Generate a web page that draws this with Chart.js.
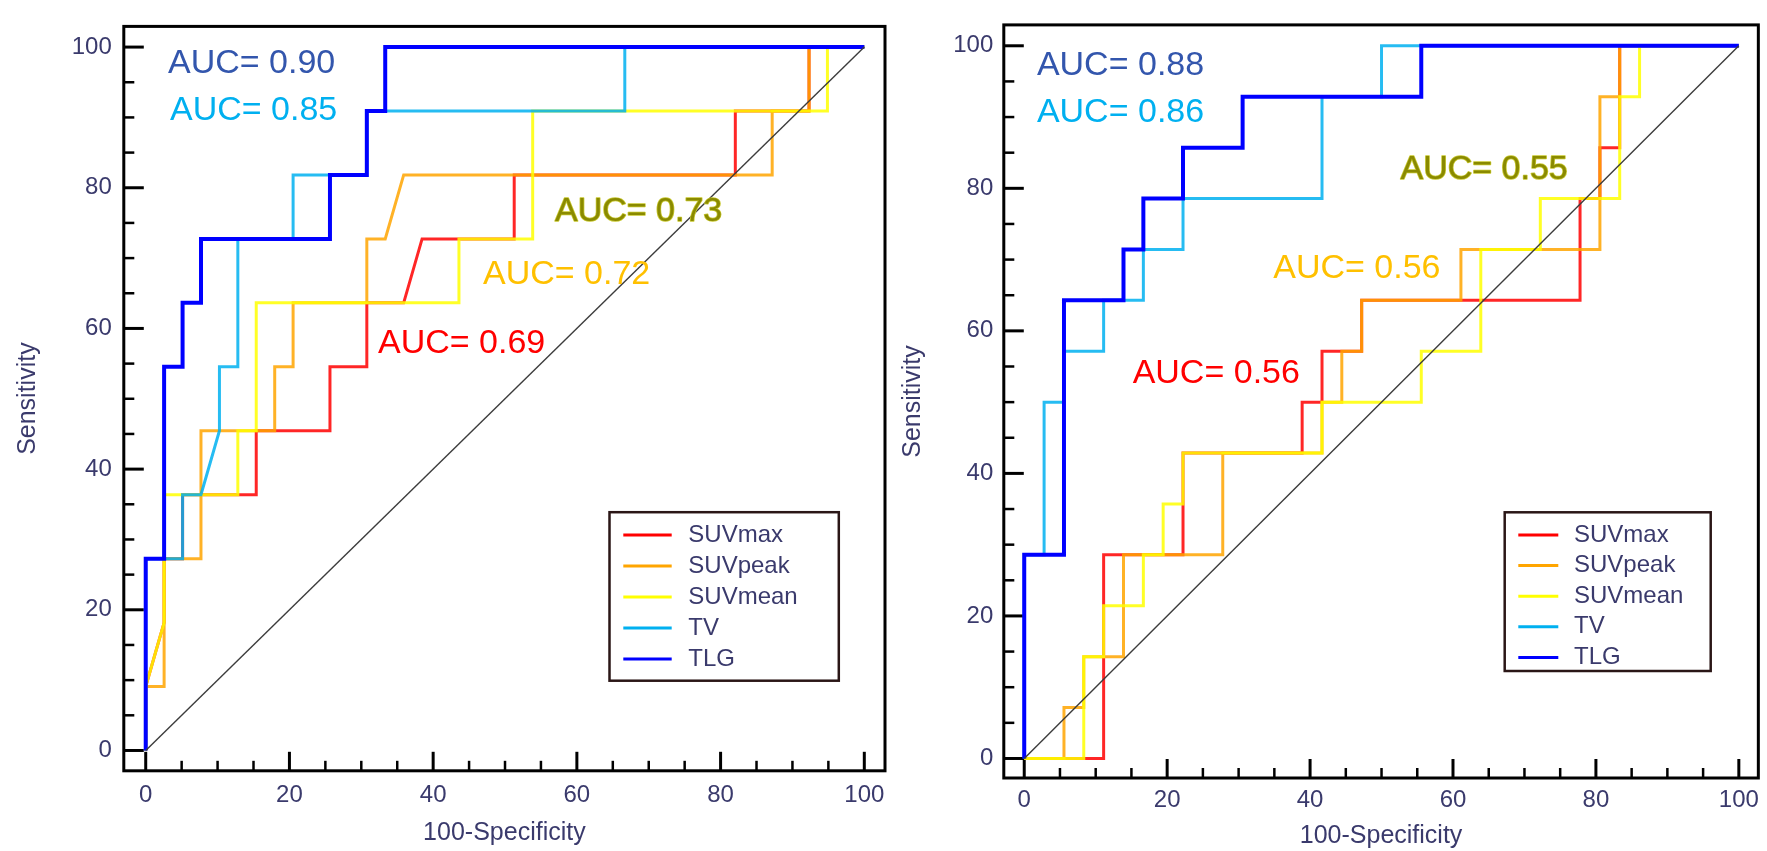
<!DOCTYPE html>
<html>
<head>
<meta charset="utf-8">
<script src="https://cdn.jsdelivr.net/npm/chart.js@4.4.1/dist/chart.umd.min.js"></script>
<style>
  html, body { margin: 0; padding: 0; background: #ffffff; }
  #wrapL { position: absolute; left: 0; top: 0; width: 895px; height: 851px; }
  #wrapR { position: absolute; left: 895px; top: 0; width: 872px; height: 851px; }
</style>
</head>
<body>
<div id="wrapL"><canvas id="cL" width="895" height="851"></canvas></div>
<div id="wrapR"><canvas id="cR" width="872" height="851"></canvas></div>
<script>
// ---------------- DATA ----------------
const seriesNames = ['SUVmax', 'SUVpeak', 'SUVmean', 'TV', 'TLG'];
const majorTicks = [0, 20, 40, 60, 80, 100];
const minorTicks = [5, 10, 15, 25, 30, 35, 45, 50, 55, 65, 70, 75, 85, 90, 95];
const xTitle = '100-Specificity';
const yTitle = 'Sensitivity';
const diagX = [0, 100];
const diagY = [0, 100];

// Left panel (100-Specificity = x, Sensitivity = y)
const L_SUVmax_x  = [0, 0, 2.56, 2.56, 5.13, 5.13, 15.38, 15.38, 25.64, 25.64, 30.77, 30.77, 35.90, 38.46, 51.28, 51.28, 82.05, 82.05, 92.31, 92.31, 100];
const L_SUVmax_y  = [0, 9.09, 18.18, 27.27, 27.27, 36.36, 36.36, 45.45, 45.45, 54.55, 54.55, 63.64, 63.64, 72.73, 72.73, 81.82, 81.82, 90.91, 90.91, 100, 100];
const L_SUVpeak_x = [0, 0, 2.56, 2.56, 7.69, 7.69, 17.95, 17.95, 20.51, 20.51, 30.77, 30.77, 33.33, 35.90, 87.18, 87.18, 92.31, 92.31, 100];
const L_SUVpeak_y = [0, 9.09, 9.09, 27.27, 27.27, 45.45, 45.45, 54.55, 54.55, 63.64, 63.64, 72.73, 72.73, 81.82, 81.82, 90.91, 90.91, 100, 100];
const L_SUVmean_x = [0, 0, 2.56, 2.56, 12.82, 12.82, 15.38, 15.38, 43.59, 43.59, 53.85, 53.85, 94.87, 94.87, 100];
const L_SUVmean_y = [0, 9.09, 18.18, 36.36, 36.36, 45.45, 45.45, 63.64, 63.64, 72.73, 72.73, 90.91, 90.91, 100, 100];
const L_TV_x      = [0, 0, 5.13, 5.13, 7.69, 10.26, 10.26, 12.82, 12.82, 20.51, 20.51, 30.77, 30.77, 66.67, 66.67, 100];
const L_TV_y      = [0, 27.27, 27.27, 36.36, 36.36, 45.45, 54.55, 54.55, 72.73, 72.73, 81.82, 81.82, 90.91, 90.91, 100, 100];
const L_TLG_x     = [0, 0, 2.56, 2.56, 5.13, 5.13, 7.69, 7.69, 25.64, 25.64, 30.77, 30.77, 33.33, 33.33, 100];
const L_TLG_y     = [0, 27.27, 27.27, 54.55, 54.55, 63.64, 63.64, 72.73, 72.73, 81.82, 81.82, 90.91, 90.91, 100, 100];
const L_aucText   = ['AUC= 0.90', 'AUC= 0.85', 'AUC= 0.73', 'AUC= 0.72', 'AUC= 0.69'];

// Right panel
const R_SUVmax_x  = [0, 11.11, 11.11, 22.22, 22.22, 38.89, 38.89, 41.67, 41.67, 47.22, 47.22, 77.78, 77.78, 80.56, 80.56, 83.33, 83.33, 100];
const R_SUVmax_y  = [0, 0, 28.57, 28.57, 42.86, 42.86, 50, 50, 57.14, 57.14, 64.29, 64.29, 78.57, 78.57, 85.71, 85.71, 100, 100];
const R_SUVpeak_x = [0, 5.56, 5.56, 8.33, 8.33, 13.89, 13.89, 27.78, 27.78, 41.67, 41.67, 44.44, 44.44, 47.22, 47.22, 61.11, 61.11, 80.56, 80.56, 83.33, 83.33, 100];
const R_SUVpeak_y = [0, 0, 7.14, 7.14, 14.29, 14.29, 28.57, 28.57, 42.86, 42.86, 50, 50, 57.14, 57.14, 64.29, 64.29, 71.43, 71.43, 92.86, 92.86, 100, 100];
const R_SUVmean_x = [0, 8.33, 8.33, 11.11, 11.11, 16.67, 16.67, 19.44, 19.44, 22.22, 22.22, 41.67, 41.67, 55.56, 55.56, 63.89, 63.89, 72.22, 72.22, 83.33, 83.33, 86.11, 86.11, 100];
const R_SUVmean_y = [0, 0, 14.29, 14.29, 21.43, 21.43, 28.57, 28.57, 35.71, 35.71, 42.86, 42.86, 50, 50, 57.14, 57.14, 71.43, 71.43, 78.57, 78.57, 92.86, 92.86, 100, 100];
const R_TV_x      = [0, 0, 2.78, 2.78, 5.56, 5.56, 11.11, 11.11, 16.67, 16.67, 22.22, 22.22, 41.67, 41.67, 50, 50, 100];
const R_TV_y      = [0, 28.57, 28.57, 50, 50, 57.14, 57.14, 64.29, 64.29, 71.43, 71.43, 78.57, 78.57, 92.86, 92.86, 100, 100];
const R_TLG_x     = [0, 0, 5.56, 5.56, 13.89, 13.89, 16.67, 16.67, 22.22, 22.22, 30.56, 30.56, 55.56, 55.56, 100];
const R_TLG_y     = [0, 28.57, 28.57, 64.29, 64.29, 71.43, 71.43, 78.57, 78.57, 85.71, 85.71, 92.86, 92.86, 100, 100];
const R_aucText   = ['AUC= 0.88', 'AUC= 0.86', 'AUC= 0.55', 'AUC= 0.56', 'AUC= 0.56'];

// ---------------- STYLE ----------------
const FONT = "'Liberation Sans', Arial, Helvetica, sans-serif";
Chart.defaults.font.family = FONT;
const AXIS_COLOR = '#3a3a6c';
const seriesRGB = [[255, 0, 0], [255, 165, 0], [255, 255, 0], [0, 176, 240], [0, 0, 255]];
const seriesAlpha = [0.85, 0.85, 0.85, 0.85, 1];
const seriesWidth = [3, 3, 3, 3, 4];
const seriesOrder = [5, 4, 3, 2, 1];
const aucColors = ['#3356ad', '#00b0f0', '#8a8a00', '#ffc000', '#ff0000'];
const aucStroke = [null, null, '#c8c830', null, null];

function pts(xs, ys) { return xs.map((v, i) => ({ x: v, y: ys[i] })); }
function rgba(c, a) { return 'rgba(' + c[0] + ',' + c[1] + ',' + c[2] + ',' + a + ')'; }

// ---------------- PLUGINS ----------------
const rocFrame = {
  id: 'rocFrame',
  beforeDatasetsDraw(chart, args, o) {
    const { ctx, chartArea: a, scales: { x, y } } = chart;
    ctx.save();
    ctx.strokeStyle = '#000';
    ctx.lineCap = 'butt';
    const tick = (isX, v, len, w) => {
      ctx.lineWidth = w;
      ctx.beginPath();
      if (isX) { const p = x.getPixelForValue(v); ctx.moveTo(p, a.bottom); ctx.lineTo(p, a.bottom - len); }
      else { const p = y.getPixelForValue(v); ctx.moveTo(a.left, p); ctx.lineTo(a.left + len, p); }
      ctx.stroke();
    };
    majorTicks.forEach(v => { tick(true, v, o.xMajor, 3); tick(false, v, o.yMajor, 3); });
    minorTicks.forEach(v => { tick(true, v, o.xMinor, 2.5); tick(false, v, o.yMinor, 2.5); });
    ctx.lineWidth = o.frameWidth;
    ctx.strokeRect(a.left, a.top, a.right - a.left, a.bottom - a.top);
    ctx.restore();
  }
};

const rocLegend = {
  id: 'rocLegend',
  afterDatasetsDraw(chart, args, o) {
    const ctx = chart.ctx;
    ctx.save();
    ctx.fillStyle = '#ffffff';
    ctx.fillRect(o.box[0], o.box[1], o.box[2] - o.box[0], o.box[3] - o.box[1]);
    ctx.strokeStyle = '#2a1616';
    ctx.lineWidth = 2.5;
    ctx.strokeRect(o.box[0], o.box[1], o.box[2] - o.box[0], o.box[3] - o.box[1]);
    ctx.font = o.fontSize + 'px ' + FONT;
    ctx.textBaseline = 'middle';
    ctx.textAlign = 'left';
    seriesNames.forEach((name, i) => {
      const yy = o.rowY + i * o.rowStep;
      ctx.strokeStyle = rgba(seriesRGB[i], 1);
      ctx.lineWidth = 3;
      ctx.beginPath(); ctx.moveTo(o.lineX1, yy); ctx.lineTo(o.lineX2, yy); ctx.stroke();
      ctx.fillStyle = AXIS_COLOR;
      ctx.fillText(name, o.textX, yy);
    });
    ctx.restore();
  }
};

const aucLabels = {
  id: 'aucLabels',
  afterDatasetsDraw(chart, args, o) {
    const { ctx, scales: { x, y } } = chart;
    ctx.save();
    ctx.font = o.fontSize + 'px ' + FONT;
    ctx.textBaseline = 'alphabetic';
    ctx.textAlign = 'left';
    o.texts.forEach((t, i) => {
      const px = x.getPixelForValue(o.pos[i][0]);
      const py = y.getPixelForValue(o.pos[i][1]);
      if (aucStroke[i]) {
        ctx.lineWidth = 1.5; ctx.strokeStyle = aucStroke[i]; ctx.lineJoin = 'round';
        ctx.strokeText(t, px, py);
      }
      ctx.fillStyle = aucColors[i];
      ctx.fillText(t, px, py);
    });
    ctx.restore();
  }
};

// ---------------- CHARTS ----------------
function makePanel(canvasId, series, aucTexts, L) {
  const datasets = series.map((s, i) => ({
    label: seriesNames[i],
    data: pts(s[0], s[1]),
    borderColor: rgba(seriesRGB[i], seriesAlpha[i]),
    borderWidth: seriesWidth[i],
    pointRadius: 0,
    tension: 0,
    fill: false,
    order: seriesOrder[i],
    borderJoinStyle: 'miter',
    borderCapStyle: 'butt'
  }));
  datasets.push({
    label: 'reference',
    data: pts(diagX, diagY),
    borderColor: '#3c3c3c',
    borderWidth: 1.4,
    pointRadius: 0,
    fill: false,
    order: 0
  });
  return new Chart(document.getElementById(canvasId), {
    type: 'line',
    data: { datasets },
    options: {
      responsive: false,
      animation: false,
      events: [],
      layout: { padding: { top: L.padTop, right: L.padRight, bottom: 0, left: 0 } },
      plugins: {
        legend: { display: false },
        tooltip: { enabled: false },
        rocFrame: { frameWidth: 3, xMajor: 19, xMinor: 10, yMajor: 20, yMinor: 10.5 },
        rocLegend: L.legend,
        aucLabels: { texts: aucTexts, pos: L.aucPos, fontSize: 34 }
      },
      scales: {
        x: {
          type: 'linear', min: L.xMin, max: L.xMax,
          afterBuildTicks: s => { s.ticks = majorTicks.map(v => ({ value: v })); },
          afterFit: s => { s.height = L.xAxisH; },
          grid: { display: false, drawTicks: false },
          border: { display: false },
          ticks: { color: AXIS_COLOR, font: { size: 24 }, padding: L.xTickPad, maxRotation: 0, autoSkip: false },
          title: { display: true, text: xTitle, color: AXIS_COLOR, font: { size: 25 }, padding: { top: 0, bottom: L.xTitlePad } }
        },
        y: {
          type: 'linear', min: L.yMin, max: L.yMax,
          afterBuildTicks: s => { s.ticks = majorTicks.map(v => ({ value: v })); },
          afterFit: s => { s.width = L.yAxisW; },
          grid: { display: false, drawTicks: false },
          border: { display: false },
          ticks: { color: AXIS_COLOR, font: { size: 24 }, padding: L.yTickPad, autoSkip: false },
          title: { display: true, text: yTitle, color: AXIS_COLOR, font: { size: 25 }, padding: { top: L.yTitlePad, bottom: 0 } }
        }
      }
    },
    plugins: [rocFrame, rocLegend, aucLabels]
  });
}

makePanel('cL',
  [[L_SUVmax_x, L_SUVmax_y], [L_SUVpeak_x, L_SUVpeak_y], [L_SUVmean_x, L_SUVmean_y], [L_TV_x, L_TV_y], [L_TLG_x, L_TLG_y]],
  L_aucText,
  {
    padTop: 8.8, padRight: 10, yAxisW: 123.8, xAxisH: 80.2,
    xMin: -3.05, xMax: 102.88, yMin: -2.89, yMax: 102.94,
    xTickPad: 10, yTickPad: 12, xTitlePad: 3, yTitlePad: 13,
    legend: { box: [609.5, 512.2, 838.8, 680.7], lineX1: 623.3, lineX2: 671.7, textX: 688.3, rowY: 535, rowStep: 31, fontSize: 24 },
    aucPos: [[3.10, 96.25], [3.38, 89.58], [56.95, 75.28], [46.93, 66.25], [32.32, 56.53]]
  });

makePanel('cR',
  [[R_SUVmax_x, R_SUVmax_y], [R_SUVpeak_x, R_SUVpeak_y], [R_SUVmean_x, R_SUVmean_y], [R_TV_x, R_TV_y], [R_TLG_x, R_TLG_y]],
  R_aucText,
  {
    padTop: 17.2, padRight: 5.7, yAxisW: 108.8, xAxisH: 73,
    xMin: -2.86, xMax: 102.73, yMin: -2.74, yMax: 102.93,
    xTickPad: 8, yTickPad: 10.5, xTitlePad: 0, yTitlePad: 2.7,
    legend: { box: [609.7, 512.3, 815.7, 671], lineX1: 623.3, lineX2: 663.3, textX: 679, rowY: 535, rowStep: 30.6, fontSize: 24 },
    aucPos: [[1.77, 95.88], [1.77, 89.35], [52.65, 81.29], [34.85, 67.4], [15.17, 52.68]]
  });
</script>
</body>
</html>
